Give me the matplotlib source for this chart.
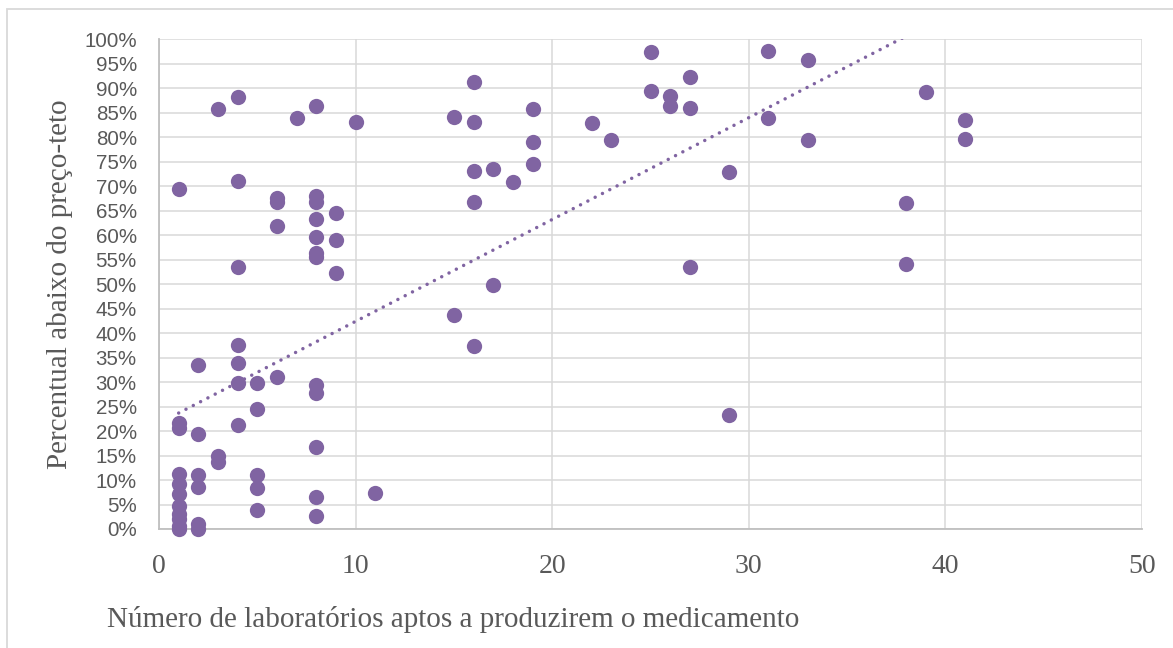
import numpy as np
import matplotlib.pyplot as plt
from matplotlib.patches import Rectangle

# Número de laboratórios (x) e percentual abaixo do preço-teto (y, em %)
labs = [1] * 11 + [2] * 6 + [3] * 3 + [4] * 7 + [5] * 5 + [6] * 4 + [7] + [8] * 12 + \
       [9] * 3 + [10] + [11] + [15] * 2 + [16] * 5 + [17] * 2 + [18] + [19] * 3 + \
       [22] + [23] + [25] * 2 + [26] * 2 + [27] * 3 + [29] * 2 + [31] * 2 + [33] * 2 + \
       [38] * 2 + [39] + [41] * 2
pct = [69.4, 21.6, 20.6, 11.2, 9.2, 7.1, 4.7, 3.0, 2.0, 0.7, 0.0,          # 1
       33.5, 19.5, 11.0, 8.6, 1.0, 0.0,                                      # 2
       85.7, 14.9, 13.6,                                                     # 3
       88.2, 71.1, 53.5, 37.5, 34.0, 29.9, 21.2,                             # 4
       29.8, 24.6, 11.0, 8.4, 3.9,                                           # 5
       67.6, 66.8, 61.9, 31.1,                                               # 6
       84.0,                                                                 # 7
       86.4, 68.0, 66.7, 63.3, 59.7, 56.3, 55.6, 29.4, 27.8, 16.8, 6.5, 2.7, # 8
       64.6, 59.0, 52.3,                                                     # 9
       83.2,                                                                 # 10
       7.3,                                                                  # 11
       84.1, 43.6,                                                           # 15
       91.3, 83.1, 73.1, 66.8, 37.4,                                         # 16
       73.5, 49.8,                                                           # 17
       70.8,                                                                 # 18
       85.7, 79.1, 74.5,                                                     # 19
       83.0,                                                                 # 22
       79.4,                                                                 # 23
       97.5, 89.4,                                                           # 25
       88.4, 86.4,                                                           # 26
       92.2, 86.0, 53.5,                                                     # 27
       72.8, 23.2,                                                           # 29
       97.6, 83.9,                                                           # 31
       95.8, 79.4,                                                           # 33
       66.5, 54.2,                                                           # 38
       89.3,                                                                 # 39
       83.5, 79.6]                                                           # 41

# linha de tendência linear (em %)
trend_intercept = 21.6
trend_slope = 2.08

x = np.array(labs, dtype=float)
y = np.array(pct) / 100.0

purple = '#8064A2'
grey_txt = '#595959'

fig = plt.figure(figsize=(11.73, 6.48), dpi=100)
ax = fig.add_axes([159 / 1173, 1 - 529 / 648, (1142 - 159) / 1173, (529 - 39.3) / 648])

xt = np.array([x.min(), x.max()])
ax.plot(xt, (trend_intercept + trend_slope * xt) / 100.0, linestyle=(0, (0.01, 2.36)),
        dash_capstyle='round', color=purple, linewidth=2.5, zorder=2)

ax.plot(x, y, 'o', color=purple, markersize=11, markeredgewidth=0, zorder=3, clip_on=False)

ax.set_xlim(0, 50)
ax.set_ylim(0, 1)
ax.set_xticks(range(0, 51, 10))
ax.set_yticks(np.arange(0, 1.0001, 0.05))
ax.set_yticklabels(['%d%%' % round(v * 100) for v in np.arange(0, 1.0001, 0.05)])

ax.grid(True, color='#d9d9d9', linewidth=1.1, zorder=0)
ax.set_axisbelow(True)
for s in ['top', 'right']:
    ax.spines[s].set_visible(False)
for s in ['left', 'bottom']:
    ax.spines[s].set_color('#bfbfbf')
    ax.spines[s].set_linewidth(1.3)

ax.tick_params(axis='both', length=0, colors=grey_txt)
ax.tick_params(axis='y', pad=16)
ax.tick_params(axis='x', pad=18)
for lbl in ax.get_yticklabels():
    lbl.set_fontfamily('Liberation Sans')
    lbl.set_fontsize(14.8)
for lbl in ax.get_xticklabels():
    lbl.set_fontfamily('Liberation Serif')
    lbl.set_fontsize(20)

fig.text(60 / 1173, 1 - 284 / 648, 'Percentual abaixo do preço-teto', rotation=90,
         ha='center', va='center', fontsize=21, family='Liberation Serif', color=grey_txt)
fig.text(107 / 1173, 1 - 627 / 648, 'Número de laboratórios aptos a produzirem o medicamento',
         ha='left', va='baseline', fontsize=21, family='Liberation Serif', color=grey_txt)

# moldura do gráfico
fig.patches.append(Rectangle((7 / 1173, -0.01), 1.2, 1 - 9 / 648 + 0.01,
                             transform=fig.transFigure, fill=False,
                             edgecolor='#d9d9d9', linewidth=1.3))

fig.savefig('out.png', dpi=100)
